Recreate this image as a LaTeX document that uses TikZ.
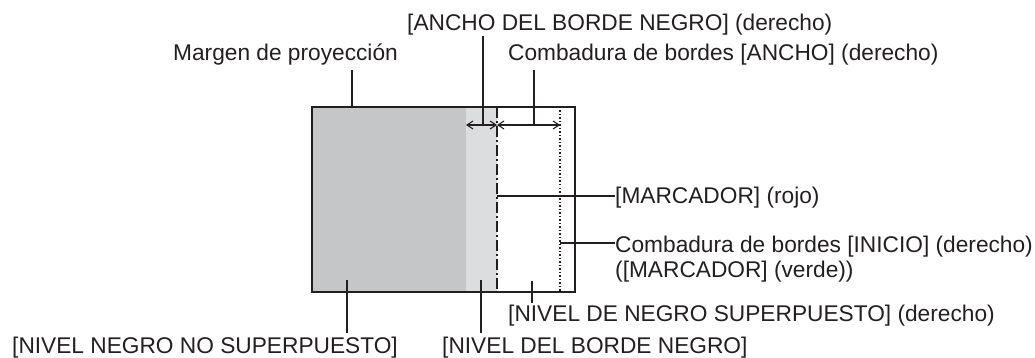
\documentclass[tikz,border=0pt]{standalone}
\usepackage{fontspec}
\setmainfont{Liberation Sans}
\usetikzlibrary{arrows.meta}
\definecolor{ink}{HTML}{231F20}
\definecolor{nonovgray}{HTML}{C5C6C8}
\definecolor{bordgray}{HTML}{DCDDDE}
\tikzset{
  lbl/.style      ={inner sep=0pt,anchor=base west,text=ink,
                    font=\fontsize{22.7}{25}\selectfont},
  zone/.style     ={inner sep=0pt,outer sep=0pt,anchor=north west,minimum height=185pt},
  frame/.style    ={draw=ink,line width=1.4pt},
  leader/.style   ={draw=ink,line width=1.2pt},
  dim/.style      ={{Straight Barb[length=6pt,width=8pt]}-{Straight Barb[length=6pt,width=8pt]},
                    draw=ink,line width=1.1pt},
  redmark/.style  ={draw=ink,line width=1.4pt,dash pattern=on 11pt off 3pt on 2pt off 3pt},
  greenmark/.style={draw=ink,line width=1.1pt,dash pattern=on 1.5pt off 2pt}
}

\begin{document}
\begin{tikzpicture}[x=1pt,y=-1pt]
  \useasboundingbox (0,0) rectangle (1035,358);
  % screen zones
  \node[zone,fill=nonovgray,minimum width=154pt] (nonovzone) at (312,107) {};
  \node[zone,fill=bordgray,minimum width=31pt] (bordzone) at (nonovzone.north east) {};
  \node[zone,fill=white,minimum width=78pt] (ovzone) at (bordzone.north east) {};
  \draw[frame] (nonovzone.north west) rectangle (ovzone.south east);
  \coordinate (esline) at (560,107);
  \draw[redmark] (bordzone.north east) -- (bordzone.south east);
  \draw[greenmark] (esline) -- (esline |- ovzone.south);
  % widths
  \coordinate (dimy) at (0,125);
  \draw[dim] (dimy -| bordzone.west) -- (dimy -| bordzone.east);
  \draw[dim] (dimy -| bordzone.east) -- (dimy -| esline);
  % labels
  \node[lbl] (margin) at (173,61) {Margen de proyección};
  \node[lbl] (bwidth) at (407,31) {[ANCHO DEL BORDE NEGRO] (derecho)};
  \node[lbl] (ewidth) at (508,61) {Combadura de bordes [ANCHO] (derecho)};
  \node[lbl] (marker) at (615,204) {[MARCADOR] (rojo)};
  \node[lbl] (estart) at (615,252) {Combadura de bordes [INICIO] (derecho)};
  \node[lbl,yshift=-25pt] (estartb) at (estart.base west) {([MARCADOR] (verde))};
  \node[lbl] (overlap) at (508,321.5) {[NIVEL DE NEGRO SUPERPUESTO] (derecho)};
  \node[lbl] (nonover) at (12,353) {[NIVEL NEGRO NO SUPERPUESTO]};
  \node[lbl] (blevel) at (442,353) {[NIVEL DEL BORDE NEGRO]};
  % leaders
  \coordinate (mgtip) at (352,108);
  \coordinate (bwtip) at (483,125);
  \coordinate (ewtip) at (534,125);
  \coordinate (mktip) at (497,196);
  \coordinate (estip) at (560,243);
  \coordinate (ovtip) at (532,281);
  \coordinate (nntip) at (347,280);
  \coordinate (bltip) at (481,280);
  \draw[leader] ([yshift=-4pt]margin.south -| mgtip) -- (mgtip);
  \draw[leader] ([yshift=-0.5pt]bwidth.south -| bwtip) -- (bwtip);
  \draw[leader] ([yshift=-4pt]ewidth.south -| ewtip) -- (ewtip);
  \draw[leader] (mktip) -- (mktip -| marker.west);
  \draw[leader] (estip) -- (estip -| estart.west);
  \draw[leader] (ovtip) -- ([yshift=1.5pt]overlap.north -| ovtip);
  \draw[leader] (nntip) -- ([yshift=3pt]nonover.north -| nntip);
  \draw[leader] (bltip) -- ([yshift=3pt]blevel.north -| bltip);
\end{tikzpicture}
\end{document}
